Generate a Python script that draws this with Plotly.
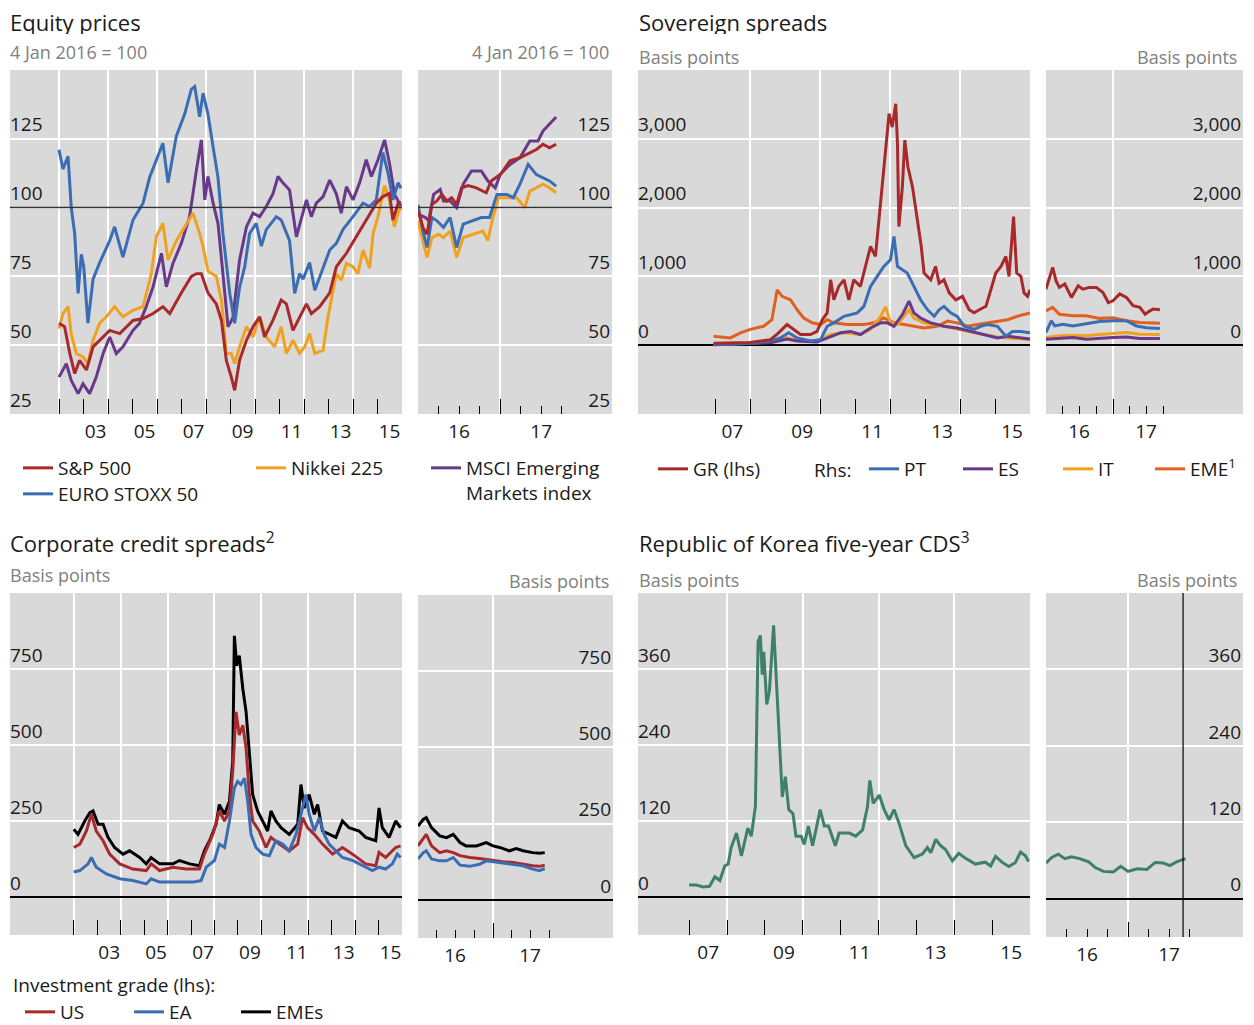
import plotly.graph_objects as go

# the page keeps an 8 px body margin: positions below are the reference's pixels
OFF = 8
W = 1254 - 2 * OFF
H = 1030
FONT = "Open Sans"

RED = "#a8292c"
BLUE = "#3a6db3"
ORANGE = "#f0a11f"
PURPLE = "#68398a"
EME_ORANGE = "#e0611f"
GREEN = "#3e806a"
GREY_TEXT = "#808080"

# ---------------- Equity prices, 4 Jan 2016 = 100 ----------------
# long history (2002-2015)
spx_t = [2002.00, 2002.23, 2002.44, 2002.64, 2002.84, 2003.12, 2003.39, 2003.66, 2004.07, 2004.48,
         2005.02, 2005.43, 2005.84, 2006.24, 2006.52, 2006.99, 2007.40, 2007.61, 2007.81, 2008.08,
         2008.42, 2008.63, 2008.83, 2009.03, 2009.17, 2009.37, 2009.65, 2009.92, 2010.19, 2010.39,
         2010.73, 2011.07, 2011.28, 2011.55, 2011.82, 2012.10, 2012.30, 2012.64, 2013.05, 2013.32,
         2013.73, 2014.14, 2014.54, 2014.95, 2015.22, 2015.49, 2015.63, 2015.84, 2015.96]
spx_v = [58, 56.7, 47, 39.7, 44.5, 41, 49.4, 51.8, 55.4, 54.2,
         59, 59.7, 61.5, 64, 61.5, 69, 75, 76, 76, 69,
         65, 59, 44.5, 38.5, 33.6, 44.5, 51.8, 56.7, 60.3, 53,
         59, 66.4, 65, 55.4, 60.3, 65, 61.5, 64, 69, 78.5,
         83.4, 89.4, 95.5, 101.6, 104, 105.2, 95.5, 101.6, 102]

sx5e_t = [2002.00, 2002.16, 2002.37, 2002.50, 2002.64, 2002.78, 2002.91, 2003.01, 2003.18, 2003.39,
          2003.66, 2004.07, 2004.27, 2004.61, 2005.02, 2005.43, 2005.70, 2006.11, 2006.24, 2006.45,
          2006.79, 2007.13, 2007.40, 2007.54, 2007.74, 2007.88, 2008.08, 2008.29, 2008.49, 2008.69,
          2008.97, 2009.17, 2009.37, 2009.58, 2009.78, 2010.05, 2010.26, 2010.46, 2010.87, 2011.07,
          2011.41, 2011.62, 2011.82, 2011.96, 2012.23, 2012.44, 2012.78, 2013.05, 2013.32, 2013.59,
          2014.00, 2014.41, 2014.68, 2014.95, 2015.22, 2015.43, 2015.63, 2015.84, 2015.96]
sx5e_v = [121, 114, 118.6, 100, 90.6, 68.8, 83, 78.5, 58, 74,
          80, 88, 93, 82, 95.5, 101.6, 111, 120, 123.4, 109,
          126, 134, 143, 144, 133, 141.6, 134, 122, 111, 90.6,
          68.8, 58, 71, 78.5, 90.6, 94.3, 86, 92, 96.7, 95.5,
          88, 68.8, 76, 74, 80, 70, 78.5, 84.6, 87, 92,
          96.7, 101.6, 100.4, 102.8, 120, 112.5, 102.8, 109, 107]

nky_t = [2002.00, 2002.16, 2002.37, 2002.50, 2002.71, 2002.98, 2003.18, 2003.39, 2003.66, 2003.93,
         2004.27, 2004.61, 2005.02, 2005.43, 2005.77, 2005.97, 2006.24, 2006.45, 2006.79, 2007.13,
         2007.47, 2007.74, 2007.88, 2008.08, 2008.42, 2008.63, 2008.83, 2009.03, 2009.17, 2009.37,
         2009.65, 2009.92, 2010.19, 2010.46, 2010.80, 2011.07, 2011.28, 2011.55, 2011.82, 2012.03,
         2012.23, 2012.44, 2012.78, 2012.98, 2013.18, 2013.32, 2013.52, 2013.73, 2014.00, 2014.20,
         2014.41, 2014.68, 2014.82, 2015.02, 2015.29, 2015.49, 2015.69, 2015.84, 2015.96]
nky_v = [56, 61.5, 64, 54, 47, 45.7, 43.3, 51.8, 58, 60.3,
         64, 60.3, 62.7, 64, 76, 89.4, 94.3, 81, 88, 93,
         98, 90.6, 85.8, 77, 75, 66.4, 47, 47, 43.3, 49.4,
         56.7, 53, 60.3, 53, 49.4, 56.7, 47, 51.8, 47, 49.4,
         54.2, 47, 48.2, 60.3, 70, 76, 73.7, 79.7, 78.5, 76,
         84.6, 78, 90.6, 96.7, 108, 102.8, 93, 98, 100.4]

msci_t = [2002.00, 2002.30, 2002.50, 2002.78, 2002.98, 2003.25, 2003.52, 2003.80, 2004.07, 2004.34,
          2004.61, 2005.02, 2005.29, 2005.56, 2005.84, 2006.18, 2006.38, 2006.65, 2006.99, 2007.33,
          2007.61, 2007.81, 2007.95, 2008.08, 2008.29, 2008.49, 2008.69, 2008.90, 2009.10, 2009.37,
          2009.65, 2009.92, 2010.19, 2010.46, 2010.73, 2010.94, 2011.14, 2011.41, 2011.69, 2011.89,
          2012.10, 2012.30, 2012.50, 2012.78, 2013.05, 2013.32, 2013.52, 2013.73, 2014.00, 2014.27,
          2014.54, 2014.75, 2015.02, 2015.29, 2015.49, 2015.69, 2015.96]
msci_v = [38.4, 43.3, 37.2, 32.4, 36, 32.4, 38.4, 47, 53, 47,
          49.4, 55.4, 58, 64, 71.2, 83.4, 71.2, 79.7, 87, 96.7,
          113.7, 124.6, 102.8, 111.3, 101.6, 94.3, 76, 56.7, 60, 81,
          93, 98, 96.7, 100.4, 105, 111.3, 109, 106.4, 89.4, 95.5,
          102.8, 96.7, 101.6, 104, 110, 105, 98, 107.6, 102.8, 109,
          117.4, 111.3, 117.4, 124.6, 116, 105, 100.4]

# recent (2016-2017)
spx_t2 = [2016.00, 2016.06, 2016.11, 2016.17, 2016.23, 2016.29, 2016.35, 2016.41, 2016.47, 2016.53,
          2016.61, 2016.71, 2016.83, 2016.89, 2017.00, 2017.12, 2017.24, 2017.32, 2017.44, 2017.52,
          2017.60, 2017.68]
spx_v2 = [99, 92.8, 90.3, 101.2, 102.4, 104.8, 102.4, 103.6, 101.2, 107.2,
          108, 107.2, 105.4, 109.7, 112, 117, 118.1, 119.3, 121.1, 123,
          121.7, 123]
msci_t2 = [2016.00, 2016.09, 2016.13, 2016.19, 2016.27, 2016.31, 2016.39, 2016.47, 2016.55, 2016.65,
           2016.77, 2016.85, 2016.94, 2017.00, 2017.12, 2017.24, 2017.36, 2017.46, 2017.52, 2017.60,
           2017.68]
msci_v2 = [97.6, 96.4, 95.2, 104.8, 106.6, 102.4, 102.4, 100, 108.5, 113.3,
           113.3, 109.7, 107.2, 112, 115.7, 118.1, 124.2, 124.2, 127.8, 130.2,
           132.9]
sx5e_t2 = [2016.00, 2016.06, 2016.11, 2016.17, 2016.23, 2016.31, 2016.39, 2016.47, 2016.55, 2016.65,
           2016.77, 2016.87, 2016.96, 2017.08, 2017.16, 2017.24, 2017.34, 2017.44, 2017.52, 2017.60,
           2017.68]
sx5e_v2 = [101, 91.5, 85.5, 96.4, 95.2, 92.8, 96.4, 85.5, 94, 95.2,
           96.4, 96.4, 104.8, 104.8, 103.6, 108.5, 115.7, 112, 110.9, 109.7,
           107.8]
nky_t2 = [2016.00, 2016.06, 2016.11, 2016.17, 2016.25, 2016.31, 2016.39, 2016.47, 2016.55, 2016.67,
          2016.79, 2016.85, 2016.91, 2016.98, 2017.08, 2017.20, 2017.30, 2017.36, 2017.44, 2017.52,
          2017.60, 2017.68]
nky_v2 = [95.2, 88, 81.9, 89.1, 90.3, 89.1, 91.5, 81.9, 89.1, 90.3,
          91.5, 88, 96.4, 103.6, 103.6, 103.6, 100, 106, 107.2, 108.5,
          107.2, 105.4]

# ---------------- Sovereign spreads, basis points ----------------
gr_t = [2006.95, 2007.43, 2008.00, 2008.58, 2008.81, 2009.05, 2009.24, 2009.44, 2009.72, 2009.91,
        2010.06, 2010.20, 2010.30, 2010.39, 2010.53, 2010.68, 2010.82, 2010.96, 2011.15, 2011.35,
        2011.44, 2011.58, 2011.68, 2011.78, 2011.87, 2011.97, 2012.06, 2012.16, 2012.21, 2012.25,
        2012.35, 2012.42, 2012.51, 2012.64, 2012.78, 2012.89, 2012.97, 2013.16, 2013.30, 2013.40,
        2013.54, 2013.69, 2013.88, 2014.07, 2014.26, 2014.40, 2014.55, 2014.74, 2014.88, 2015.02,
        2015.17, 2015.31, 2015.40, 2015.53, 2015.62, 2015.74, 2015.83, 2015.93, 2016.00]
gr_v = [30, 30, 40, 80, 180, 300, 230, 155, 155, 200,
        370, 470, 950, 660, 855, 950, 660, 950, 855, 1240,
        1435, 1290, 1820, 2350, 2880, 3365, 3170, 3510, 2930, 1725,
        2300, 2980, 2590, 2300, 1820, 1435, 1050, 950, 1145, 900,
        950, 760, 660, 710, 515, 470, 515, 565, 805, 1050,
        1145, 1290, 1000, 1870, 1050, 1000, 760, 710, 805]

eme_t = [2006.95, 2007.43, 2007.72, 2008.00, 2008.38, 2008.62, 2008.77, 2008.91, 2009.15, 2009.34,
         2009.53, 2009.77, 2010.01, 2010.20, 2010.39, 2010.77, 2011.25, 2011.54, 2011.82, 2012.11,
         2012.40, 2012.68, 2012.97, 2013.35, 2013.64, 2013.92, 2014.21, 2014.50, 2014.78, 2015.07,
         2015.36, 2015.64, 2016.00]
eme_v = [130, 106, 180, 230, 275, 370, 805, 710, 660, 515,
         395, 325, 300, 370, 325, 300, 300, 325, 395, 325,
         300, 275, 250, 275, 350, 325, 275, 300, 325, 350,
         370, 420, 470]

pt_t = [2006.95, 2007.91, 2008.58, 2008.86, 2009.10, 2009.34, 2009.72, 2010.01, 2010.20, 2010.39,
        2010.68, 2010.87, 2011.06, 2011.25, 2011.44, 2011.63, 2011.82, 2012.01, 2012.11, 2012.21,
        2012.35, 2012.49, 2012.68, 2012.87, 2013.07, 2013.26, 2013.40, 2013.54, 2013.73, 2013.92,
        2014.12, 2014.40, 2014.59, 2014.78, 2015.07, 2015.31, 2015.50, 2015.74, 2016.00]
pt_v = [10, 25, 60, 106, 180, 106, 60, 80, 275, 325,
        420, 445, 470, 565, 855, 1000, 1145, 1240, 1580, 1145,
        1095, 1050, 855, 660, 515, 420, 515, 565, 470, 420,
        275, 230, 275, 300, 275, 130, 200, 200, 180]

es_t = [2006.95, 2008.58, 2009.05, 2009.34, 2009.91, 2010.30, 2010.58, 2010.87, 2011.15, 2011.44,
        2011.73, 2011.92, 2012.11, 2012.35, 2012.54, 2012.68, 2012.87, 2013.16, 2013.54, 2013.92,
        2014.31, 2014.69, 2015.07, 2015.36, 2015.74, 2016.00]
es_v = [5, 35, 90, 60, 45, 130, 180, 200, 155, 250,
        325, 325, 275, 445, 640, 470, 395, 325, 275, 250,
        200, 155, 106, 130, 106, 90]

it_t = [2006.95, 2008.58, 2009.05, 2009.34, 2009.91, 2010.30, 2010.68, 2011.15, 2011.44, 2011.73,
        2011.87, 2012.01, 2012.21, 2012.35, 2012.54, 2012.68, 2012.97, 2013.26, 2013.54, 2013.92,
        2014.31, 2014.69, 2015.07, 2015.36, 2015.74, 2016.00]
it_v = [5, 45, 106, 72, 60, 155, 180, 155, 230, 420,
        560, 325, 300, 395, 515, 395, 325, 300, 275, 235,
        190, 155, 120, 106, 90, 80]

gr_t2 = [2016.00, 2016.05, 2016.10, 2016.15, 2016.20, 2016.28, 2016.38, 2016.48, 2016.55, 2016.65,
         2016.75, 2016.85, 2016.93, 2017.00, 2017.10, 2017.20, 2017.30, 2017.40, 2017.48, 2017.55,
         2017.60, 2017.70]
gr_v2 = [815, 960, 1130, 935, 840, 890, 695, 865, 815, 840,
         840, 765, 620, 645, 745, 695, 575, 550, 450, 500,
         525, 515]
eme_t2 = [2016.00, 2016.10, 2016.20, 2016.40, 2016.60, 2016.80, 2017.00, 2017.20, 2017.40, 2017.55, 2017.70]
eme_v2 = [500, 550, 450, 427, 427, 390, 400, 355, 330, 330, 320]
pt_t2 = [2016.00, 2016.08, 2016.13, 2016.25, 2016.40, 2016.60, 2016.80, 2017.00, 2017.20, 2017.35, 2017.50, 2017.70]
pt_v2 = [185, 355, 280, 305, 280, 315, 345, 355, 355, 280, 255, 243]
es_t2 = [2016.00, 2016.20, 2016.40, 2016.60, 2016.80, 2017.00, 2017.20, 2017.40, 2017.70]
es_v2 = [87, 97, 112, 87, 102, 112, 120, 97, 97]
it_t2 = [2016.00, 2016.20, 2016.40, 2016.60, 2016.80, 2017.00, 2017.20, 2017.40, 2017.70]
it_v2 = [112, 136, 146, 136, 155, 175, 185, 160, 155]

# ---------------- Corporate credit spreads, basis points ----------------
emes_t = [2002.00, 2002.18, 2002.47, 2002.68, 2002.82, 2003.04, 2003.25, 2003.46, 2003.74, 2004.10,
          2004.38, 2004.81, 2005.09, 2005.30, 2005.66, 2006.23, 2006.51, 2006.94, 2007.36, 2007.57,
          2007.79, 2008.07, 2008.21, 2008.43, 2008.64, 2008.78, 2008.85, 2008.95, 2009.06, 2009.21,
          2009.35, 2009.49, 2009.63, 2009.84, 2010.06, 2010.27, 2010.41, 2010.62, 2010.84, 2011.19,
          2011.55, 2011.69, 2011.83, 2012.04, 2012.26, 2012.40, 2012.61, 2012.89, 2013.18, 2013.46,
          2013.74, 2014.17, 2014.45, 2014.88, 2015.02, 2015.16, 2015.45, 2015.73, 2015.94]
emes_v = [223, 206, 250, 277, 283, 239, 239, 196, 163, 141,
          152, 130, 109, 130, 109, 109, 120, 109, 103, 152,
          185, 239, 304, 272, 315, 446, 859, 761, 794, 685,
          609, 467, 337, 283, 250, 217, 283, 250, 228, 206,
          239, 370, 293, 337, 272, 304, 217, 206, 196, 250,
          228, 217, 196, 185, 293, 228, 196, 250, 228]

us_t = [2002.00, 2002.26, 2002.54, 2002.75, 2002.96, 2003.25, 2003.53, 2003.96, 2004.52, 2005.09,
        2005.30, 2005.66, 2006.23, 2006.79, 2007.36, 2007.57, 2007.93, 2008.21, 2008.43, 2008.64,
        2008.78, 2008.92, 2009.06, 2009.21, 2009.35, 2009.49, 2009.63, 2009.91, 2010.20, 2010.41,
        2010.77, 2011.19, 2011.55, 2011.76, 2011.97, 2012.26, 2012.61, 2013.04, 2013.46, 2013.89,
        2014.45, 2014.88, 2015.02, 2015.30, 2015.73, 2015.94]
us_v = [163, 174, 217, 272, 217, 185, 141, 109, 92, 87,
        109, 87, 98, 92, 92, 141, 206, 283, 250, 283,
        413, 609, 533, 565, 489, 337, 250, 217, 163, 196,
        174, 152, 174, 261, 228, 206, 174, 141, 163, 141,
        109, 103, 147, 130, 163, 168]

ea_t = [2002.00, 2002.26, 2002.61, 2002.75, 2002.96, 2003.39, 2003.96, 2004.52, 2005.09, 2005.30,
        2005.66, 2006.37, 2007.08, 2007.43, 2007.65, 2008.00, 2008.21, 2008.43, 2008.64, 2008.85,
        2008.99, 2009.13, 2009.28, 2009.42, 2009.56, 2009.77, 2010.06, 2010.34, 2010.62, 2010.91,
        2011.19, 2011.48, 2011.69, 2011.90, 2012.04, 2012.26, 2012.47, 2012.68, 2012.89, 2013.18,
        2013.46, 2013.89, 2014.31, 2014.74, 2015.02, 2015.30, 2015.59, 2015.80, 2015.94]
ea_v = [82, 87, 109, 130, 98, 76, 60, 54, 43, 60,
        49, 49, 49, 54, 98, 120, 174, 163, 250, 359,
        380, 370, 391, 315, 206, 163, 141, 136, 185, 174,
        152, 206, 272, 337, 272, 217, 261, 206, 174, 152,
        130, 120, 103, 87, 98, 92, 109, 141, 130]

emes_t2 = [2016.00, 2016.07, 2016.11, 2016.18, 2016.29, 2016.38, 2016.47, 2016.56, 2016.64, 2016.78,
           2016.91, 2017.00, 2017.09, 2017.22, 2017.31, 2017.40, 2017.53, 2017.62, 2017.69]
emes_v2 = [242, 264, 270, 237, 210, 204, 215, 188, 177, 177,
           188, 177, 172, 161, 168, 161, 155, 153, 155]
us_t2 = [2016.00, 2016.07, 2016.11, 2016.18, 2016.29, 2016.38, 2016.47, 2016.56, 2016.69, 2016.82,
         2017.00, 2017.13, 2017.27, 2017.40, 2017.53, 2017.62, 2017.69]
us_v2 = [177, 204, 215, 177, 155, 161, 155, 145, 139, 136,
         130, 125, 123, 117, 112, 110, 114]
ea_t2 = [2016.00, 2016.07, 2016.11, 2016.18, 2016.29, 2016.38, 2016.47, 2016.56, 2016.69, 2016.82,
         2016.91, 2017.00, 2017.13, 2017.27, 2017.40, 2017.53, 2017.62, 2017.69]
ea_v2 = [134, 155, 161, 134, 128, 128, 139, 114, 110, 117,
         128, 125, 121, 117, 112, 101, 96, 103]

# ---------------- Republic of Korea five-year CDS, basis points ----------------
kr_t = [2007.00, 2007.19, 2007.37, 2007.54, 2007.68, 2007.81, 2007.94, 2008.03, 2008.11, 2008.25,
        2008.38, 2008.55, 2008.64, 2008.75, 2008.82, 2008.88, 2008.93, 2008.97, 2009.05, 2009.12,
        2009.23, 2009.34, 2009.46, 2009.54, 2009.63, 2009.74, 2009.82, 2009.96, 2010.04, 2010.15,
        2010.26, 2010.46, 2010.57, 2010.68, 2010.86, 2010.96, 2011.23, 2011.40, 2011.58, 2011.71,
        2011.77, 2011.86, 2012.02, 2012.15, 2012.28, 2012.41, 2012.54, 2012.72, 2012.94, 2013.16,
        2013.29, 2013.38, 2013.51, 2013.64, 2013.77, 2013.95, 2014.12, 2014.30, 2014.56, 2014.82,
        2014.96, 2015.09, 2015.26, 2015.44, 2015.61, 2015.75, 2015.88, 2015.96]
kr_v = [19, 19, 16, 17, 32, 26, 49, 52, 78, 101,
        65, 109, 96, 143, 403, 413, 351, 387, 304, 325,
        429, 288, 158, 190, 138, 132, 96, 96, 83, 112,
        81, 138, 112, 112, 81, 101, 101, 96, 106, 143,
        184, 148, 161, 138, 122, 138, 117, 81, 62, 68,
        78, 70, 91, 81, 75, 57, 69, 61, 52, 55,
        49, 64, 55, 48, 54, 71, 65, 56]
kr_t2 = [2016.00, 2016.07, 2016.15, 2016.23, 2016.31, 2016.41, 2016.52, 2016.60, 2016.70, 2016.82,
         2016.91, 2017.00, 2017.11, 2017.23, 2017.33, 2017.43, 2017.51, 2017.59, 2017.70]
kr_v2 = [56, 65, 70, 63, 66, 63, 58, 49, 43, 42,
         51, 43, 47, 46, 57, 56, 52, 58, 63]
kr_marker = 2017.67

# tick values / labels
equity_ticks = [25, 50, 75, 100, 125]
sov_ticks = [0, 1000, 2000, 3000]
corp_ticks = [0, 250, 500, 750]
cds_ticks = [0, 120, 240, 360]
recent_years = [2016, 2017]
recent_quarters = [2016.25, 2016.5, 2016.75, 2017.25, 2017.5, 2017.75]


def px_x(v):
    return (v - OFF) / W


def px_y(v):
    return 1 - (v - OFF) / H


TICKFONT = dict(family=FONT, size=19, color="#1a1a1a")


def x_long(left, right, rng, label_years, grid_years, anchor, shift):
    return dict(domain=[px_x(left), px_x(right)], range=rng, anchor=anchor,
                tickmode="array", tickvals=label_years,
                ticktext=[f"{y % 100:02d}" for y in label_years],
                ticks="inside", ticklen=15, tickwidth=1, tickcolor="black",
                ticklabelshift=shift, ticklabelstandoff=4,
                showgrid=False, zeroline=False, showline=False, tickfont=TICKFONT,
                minor=dict(tickmode="array", tickvals=grid_years, ticks="inside", ticklen=15,
                           tickwidth=1, tickcolor="black", showgrid=True,
                           gridcolor="white", gridwidth=1.5))


def x_short(left, right, rng, anchor, shift):
    return dict(domain=[px_x(left), px_x(right)], range=rng, anchor=anchor,
                tickmode="array", tickvals=recent_years,
                ticktext=[f"{y % 100:02d}" for y in recent_years],
                ticks="inside", ticklen=15, tickwidth=1, tickcolor="black",
                ticklabelshift=shift, ticklabelstandoff=4,
                showgrid=True, gridcolor="white", gridwidth=1.5,
                zeroline=False, showline=False, tickfont=TICKFONT,
                minor=dict(tickmode="array", tickvals=recent_quarters, ticks="inside", ticklen=8,
                           tickwidth=1, tickcolor="black", showgrid=False))


def y_ax(top, bottom, rng, vals, texts, anchor, side, zero=True):
    return dict(domain=[px_y(bottom), px_y(top)], range=rng, anchor=anchor, side=side,
                tickmode="array", tickvals=vals, ticktext=texts, ticks="",
                ticklabelposition="inside", ticklabelshift=-14,
                ticklabelstandoff=-3 if side == "left" else -1,
                showgrid=True, gridcolor="white", gridwidth=1.5,
                zeroline=zero, zerolinecolor="black", zerolinewidth=1.5,
                showline=False, tickfont=TICKFONT)


fig = go.Figure()


def add(t, v, color, xa, ya, name=None, legend=None, width=3):
    fig.add_trace(go.Scatter(x=t, y=v, mode="lines", name=name,
                             line=dict(color=color, width=width),
                             xaxis=xa, yaxis=ya,
                             showlegend=legend is not None, legend=legend))


# Equity prices
add(msci_t, msci_v, PURPLE, "x", "y", "MSCI Emerging<br>Markets index", "legend3")
add(nky_t, nky_v, ORANGE, "x", "y", "Nikkei 225", "legend2")
add(sx5e_t, sx5e_v, BLUE, "x", "y", "EURO STOXX 50", "legend4")
add(spx_t, spx_v, RED, "x", "y", "S&P 500", "legend")
add(msci_t2, msci_v2, PURPLE, "x2", "y2")
add(nky_t2, nky_v2, ORANGE, "x2", "y2")
add(sx5e_t2, sx5e_v2, BLUE, "x2", "y2")
add(spx_t2, spx_v2, RED, "x2", "y2")

# Sovereign spreads
add(eme_t, eme_v, EME_ORANGE, "x3", "y3", "EME<sup>1</sup>", "legend9")
add(it_t, it_v, ORANGE, "x3", "y3", "IT", "legend8")
add(es_t, es_v, PURPLE, "x3", "y3", "ES", "legend7")
add(pt_t, pt_v, BLUE, "x3", "y3", "PT", "legend6")
add(gr_t, gr_v, RED, "x3", "y3", "GR (lhs)", "legend5")
add(eme_t2, eme_v2, EME_ORANGE, "x4", "y4")
add(it_t2, it_v2, ORANGE, "x4", "y4")
add(es_t2, es_v2, PURPLE, "x4", "y4")
add(pt_t2, pt_v2, BLUE, "x4", "y4")
add(gr_t2, gr_v2, RED, "x4", "y4")

# Corporate credit spreads
add(emes_t, emes_v, "black", "x5", "y5", "EMEs", "legend12")
add(us_t, us_v, RED, "x5", "y5", "US", "legend10")
add(ea_t, ea_v, BLUE, "x5", "y5", "EA", "legend11")
add(emes_t2, emes_v2, "black", "x6", "y6")
add(us_t2, us_v2, RED, "x6", "y6")
add(ea_t2, ea_v2, BLUE, "x6", "y6")

# Korea CDS
add(kr_t, kr_v, GREEN, "x7", "y7")
add(kr_t2, kr_v2, GREEN, "x8", "y8")

odd_long = [2003, 2005, 2007, 2009, 2011, 2013, 2015]
even_long = [2002, 2004, 2006, 2008, 2010, 2012, 2014, 2016]
odd_short = [2007, 2009, 2011, 2013, 2015]
even_short = [2008, 2010, 2012, 2014, 2016]

layout = dict(
    xaxis=x_long(10, 402, [2000.0, 2016.0], odd_long, even_long, "y", 12),
    yaxis=y_ax(70, 414, [25, 150], equity_ticks, [str(v) for v in equity_ticks], "x", "left", False),
    xaxis2=x_short(418, 612, [2016.0, 2018.36], "y2", 41),
    yaxis2=y_ax(70, 414, [25, 150], equity_ticks, [str(v) for v in equity_ticks], "x2", "right", False),
    xaxis3=x_long(638, 1030, [2004.79, 2016.0], odd_short, even_short, "y3", 17),
    yaxis3=y_ax(70, 414, [-1000, 4000], sov_ticks, [f"{v:,}" for v in sov_ticks], "x3", "left"),
    xaxis4=x_short(1046, 1243, [2016.0, 2018.94], "y4", 33),
    yaxis4=y_ax(70, 414, [-1000, 4000], sov_ticks, [f"{v:,}" for v in sov_ticks], "x4", "right"),
    xaxis5=x_long(10, 402, [1999.28, 2016.0], odd_long, even_long, "y5", 12),
    yaxis5=y_ax(593, 935, [-125, 1000], corp_ticks, [str(v) for v in corp_ticks], "x5", "left"),
    xaxis6=x_short(418, 613, [2016.0, 2018.6], "y6", 37),
    yaxis6=y_ax(595, 938, [-125, 1000], corp_ticks, [str(v) for v in corp_ticks], "x6", "right"),
    xaxis7=x_long(638, 1030, [2005.65, 2016.0], odd_short, even_short, "y7", 19),
    yaxis7=y_ax(593, 935, [-60, 480], cds_ticks, [str(v) for v in cds_ticks], "x7", "left"),
    xaxis8=x_short(1046, 1243, [2016.0, 2018.4], "y8", 41),
    yaxis8=y_ax(593, 937, [-60, 480], cds_ticks, [str(v) for v in cds_ticks], "x8", "right"),
)


def legend_at(text_x, text_y):
    return dict(x=px_x(text_x - 40), y=px_y(text_y - 20), xanchor="left", yanchor="top",
                orientation="h", bgcolor="rgba(0,0,0,0)", borderwidth=0, valign="top",
                itemwidth=30, font=dict(family=FONT, size=19, color="#1a1a1a"))


legend_pos = {
    "legend": (58, 469), "legend2": (291, 469), "legend3": (466, 469), "legend4": (58, 495),
    "legend5": (693, 470), "legend6": (904, 470), "legend7": (998, 470), "legend8": (1098, 470),
    "legend9": (1190, 470),
    "legend10": (60, 1013), "legend11": (169, 1013), "legend12": (276, 1013),
}
for key, (lx, ly) in legend_pos.items():
    layout[key] = legend_at(lx, ly)

annotations = []


def note(text, x, y, size, color="#1a1a1a", anchor="left"):
    annotations.append(dict(text=text, x=px_x(x), y=px_y(y), xref="paper", yref="paper",
                            xanchor=anchor, yanchor="middle", showarrow=False,
                            font=dict(family=FONT, size=size, color=color)))


def heading(text, x):
    # top headings sit against the upper edge of the figure
    annotations.append(dict(text=text, x=px_x(x), y=1, xref="paper", yref="paper",
                            xanchor="left", yanchor="top", height=24, valign="middle",
                            showarrow=False, font=dict(family=FONT, size=22, color="#1a1a1a")))


heading("Equity prices", 8)
note("4 Jan 2016 = 100", 8, 52, 18, GREY_TEXT)
note("4 Jan 2016 = 100", 611, 52, 18, GREY_TEXT, "right")
heading("Sovereign spreads", 637)
note("Basis points", 637, 57, 18, GREY_TEXT)
note("Basis points", 1239, 57, 18, GREY_TEXT, "right")
note("Corporate credit spreads<sup>2</sup>", 8, 542, 22)
note("Basis points", 8, 575, 18, GREY_TEXT)
note("Basis points", 611, 581, 18, GREY_TEXT, "right")
note("Republic of Korea five-year CDS<sup>3</sup>", 637, 542, 22)
note("Basis points", 637, 580, 18, GREY_TEXT)
note("Basis points", 1239, 580, 18, GREY_TEXT, "right")
note("Rhs:", 812, 470, 19)
note("Investment grade (lhs):", 11, 985, 19)

shapes = [
    dict(type="line", xref="x domain", yref="y", x0=0, x1=1, y0=100, y1=100,
         line=dict(color="#333333", width=1.5)),
    dict(type="line", xref="x2 domain", yref="y2", x0=0, x1=1, y0=100, y1=100,
         line=dict(color="#333333", width=1.5)),
    dict(type="line", xref="x8", yref="y8 domain", x0=kr_marker, x1=kr_marker, y0=0, y1=1,
         line=dict(color="black", width=1.2)),
]

fig.update_layout(
    width=W, height=H,
    margin=dict(l=0, r=0, t=0, b=0, autoexpand=False),
    paper_bgcolor="white", plot_bgcolor="#d9d9d9",
    font=dict(family=FONT, size=19, color="#1a1a1a"),
    annotations=annotations, shapes=shapes,
    **layout,
)

fig.write_html("out.html")
